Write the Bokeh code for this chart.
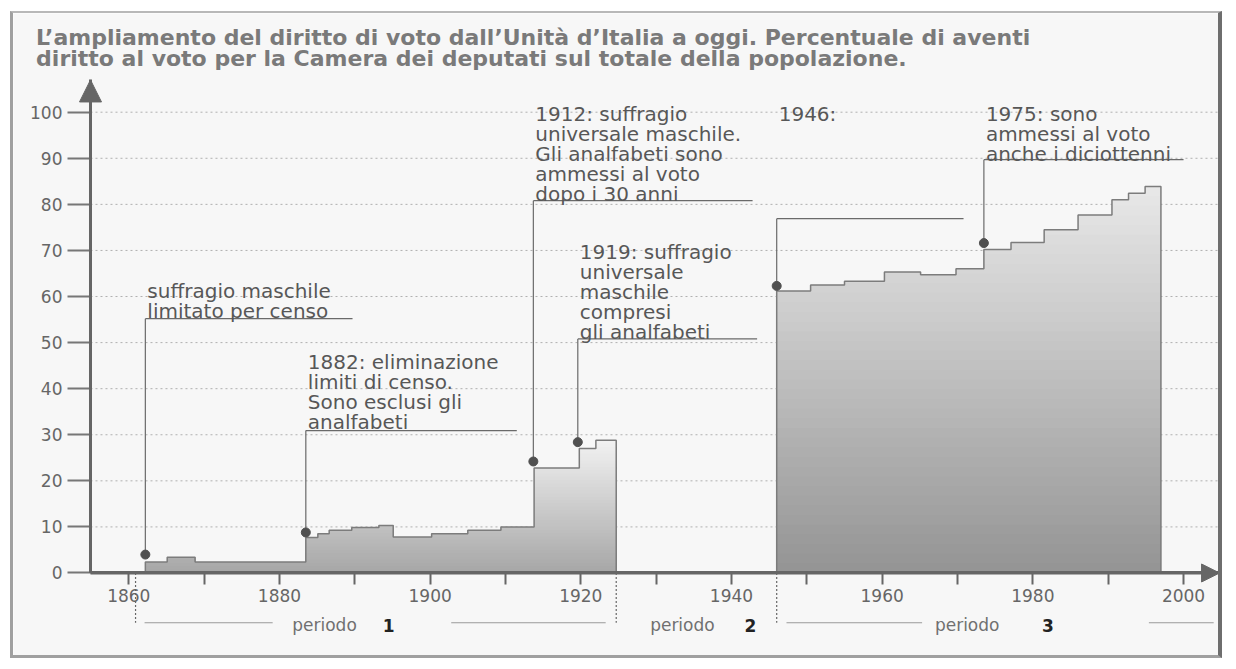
import numpy as np
from bokeh.plotting import figure
from bokeh.models import ColumnDataSource, FixedTicker, Arrow, NormalHead, Range1d
from bokeh.core.properties import value
from bokeh.embed import file_html
from bokeh.resources import INLINE

# ---------------- data ----------------
title_lines = [
    "L’ampliamento del diritto di voto dall’Unità d’Italia a oggi. Percentuale di aventi",
    "diritto al voto per la Camera dei deputati sul totale della popolazione.",
]

# period 1 (1861-1924): step edges (years) and % of population entitled to vote
p1_edges = [1862.2, 1865.1, 1868.8, 1883.5, 1885.1, 1886.6, 1889.6, 1893.2, 1895.1,
            1900.2, 1905.0, 1909.4, 1913.8, 1919.8, 1922.0, 1924.7]
p1_values = [2.4, 3.4, 2.4, 7.7, 8.5, 9.3, 9.9, 10.3, 7.8, 8.5, 9.3, 10.0, 22.8, 27.0, 28.8]

# period 3 (1946-today)
p3_edges = [1946.0, 1950.5, 1955.0, 1960.3, 1965.1, 1969.8, 1973.5, 1977.1, 1981.5,
            1986.0, 1990.5, 1992.7, 1994.9, 1997.0]
p3_values = [61.2, 62.5, 63.3, 65.3, 64.7, 66.0, 70.2, 71.7, 74.5, 77.7, 81.0, 82.4, 83.9]

y_ticks = [0, 10, 20, 30, 40, 50, 60, 70, 80, 90, 100]
x_ticks = [1860, 1870, 1880, 1890, 1900, 1910, 1920, 1930, 1940, 1950, 1960, 1970, 1980, 1990, 2000]
x_labelled = [1860, 1880, 1900, 1920, 1940, 1960, 1980, 2000]

# annotations: leader x (year), dot value, leader top value, leader end year, first text baseline
note_year = [1862.2, 1883.5, 1913.7, 1919.6, 1946.0, 1973.5]
note_dot = [4.0, 8.8, 24.2, 28.4, 62.3, 71.6]
note_top = [55.2, 30.9, 80.8, 50.8, 76.9, 89.7]
note_end = [1889.7, 1911.5, 1942.8, 1943.4, 1970.8, 2000.0]
note_first = [61.3, 45.8, 99.7, 69.6, 99.7, 99.7]
note_lines = [
    ["suffragio maschile", "limitato per censo"],
    ["1882: eliminazione", "limiti di censo.", "Sono esclusi gli", "analfabeti"],
    ["1912: suffragio", "universale maschile.", "Gli analfabeti sono", "ammessi al voto", "dopo i 30 anni"],
    ["1919: suffragio", "universale", "maschile", "compresi", "gli analfabeti"],
    ["1946:"],
    ["1975: sono", "ammessi al voto", "anche i diciottenni"],
]

# periods row under the axis
period_bounds = [1860.9, 1924.7, 1946.0]
period_line_start = [1862.1, 1902.8, 1947.3, 1995.4]
period_line_end = [1879.1, 1923.3, 1965.3, 2004.0]
period_word_x = [1881.7, 1929.2, 1967.0]
period_words = ["periodo", "periodo", "periodo"]
period_num_x = [1894.5, 1942.5, 1982.0]
period_nums = ["1", "2", "3"]

# ---------------- figure ----------------
AX_X0, AX_X1 = 1854.92, 2004.78      # axis extent (x)
AX_Y1 = 107.0                         # y-axis arrow tip
GRID_END = 2005.2
ROW_Y = -10.8
LINE_STEP = 4.34
TITLE_X, TITLE_Y, TITLE_STEP = 1847.7, 116.3, 4.68
FONT = "DejaVu Sans"

p = figure(width=1212, height=647, x_range=Range1d(1844.70, 2005.57),
           y_range=Range1d(-18.99, 121.42),
           output_backend="svg", toolbar_location=None, title=None,
           min_border_left=0, min_border_right=0, min_border_top=0, min_border_bottom=0,
           background_fill_color="#f7f7f7", border_fill_color="#f7f7f7",
           outline_line_color=None)
p.styles = {"margin-left": "10px", "margin-top": "11px",
            "border-top": "2px solid #b8b8b8", "border-left": "3px solid #a0a0a0",
            "border-bottom": "3px solid #a0a0a0", "border-right": "4px solid #6e6e6e"}

p.xgrid.visible = False
p.ygrid.visible = False

# dotted horizontal guide lines (from the y ticks)
gy = y_ticks[1:]
p.segment(x0=[AX_X0] * len(gy), y0=gy, x1=[GRID_END] * len(gy), y1=gy,
          line_color="#b0b0b0", line_dash="2 3", line_width=1)

# axes placed inside the frame
ya = p.yaxis[0]
ya.fixed_location = AX_X0
ya.bounds = (0, AX_Y1)
ya.ticker = FixedTicker(ticks=y_ticks)
ya.axis_line_color = "#666666"
ya.axis_line_width = 3
ya.major_tick_out = 23
ya.major_tick_in = 0
ya.major_tick_line_color = "#777777"
ya.major_tick_line_width = 2
ya.minor_tick_line_color = None
ya.major_label_text_font = FONT
ya.major_label_text_font_size = "17px"
ya.major_label_text_color = "#666666"
ya.major_label_standoff = 5

xa = p.xaxis[0]
xa.fixed_location = 0
xa.bounds = (AX_X0, AX_X1)
xa.ticker = FixedTicker(ticks=x_ticks)
xa.major_label_overrides = {t: (str(t) if t in x_labelled else "") for t in x_ticks}
xa.axis_line_color = "#666666"
xa.axis_line_width = 3
xa.major_tick_out = 12
xa.major_tick_in = 0
xa.major_tick_line_color = "#666666"
xa.major_tick_line_width = 2
xa.minor_tick_line_color = None
xa.major_label_text_font = FONT
xa.major_label_text_font_size = "17px"
xa.major_label_text_color = "#666666"
xa.major_label_standoff = 4


def lerp(c0, c1, t):
    return "#%02x%02x%02x" % tuple(int(round(a + (b - a) * t)) for a, b in zip(c0, c1))


def draw_period(edges, vals, c_bottom, c_top, n=40):
    vext = np.array(vals + [vals[-1]], dtype=float)
    vmax = max(vals)
    zeros = np.zeros(len(edges))
    for k in range(n - 1, -1, -1):
        hi = vmax * (k + 1) / n
        col = lerp(c_bottom, c_top, (k + 0.5) / n)
        p.varea_step(x=edges, y1=zeros, y2=np.minimum(vext, hi), step_mode="after",
                     fill_color=col)
    xs, ys = [edges[0]], [0.0]
    for i, v in enumerate(vals):
        xs += [edges[i], edges[i + 1]]
        ys += [v, v]
    xs.append(edges[-1])
    ys.append(0.0)
    p.line(xs, ys, line_color="#7c7c7c", line_width=1.5)


draw_period(p1_edges, p1_values, (166, 166, 166), (242, 242, 242))
draw_period(p3_edges, p3_values, (148, 148, 148), (232, 232, 232))

# leader lines and dots
p.segment(x0=note_year, y0=note_dot, x1=note_year, y1=note_top, line_color="#6a6a6a", line_width=1.2)
p.segment(x0=note_year, y0=note_top, x1=note_end, y1=note_top, line_color="#6a6a6a", line_width=1.2)
p.scatter(note_year, note_dot, size=9, marker="circle", fill_color="#505050", line_color="#505050")

tx, ty, tt = [], [], []
for i, lines in enumerate(note_lines):
    for j, s in enumerate(lines):
        tx.append(note_year[i])
        ty.append(note_first[i] - j * LINE_STEP)
        tt.append(s)
p.text(x="x", y="y", text="text", source=ColumnDataSource(dict(x=tx, y=ty, text=tt)),
       text_font=value(FONT), text_font_size="20px", text_color="#575757",
       text_baseline="alphabetic", text_align="left", x_offset=2)

# axis arrows
p.add_layout(Arrow(end=NormalHead(size=22, fill_color="#666666", line_color="#666666"),
                   x_start=AX_X0, y_start=0, x_end=AX_X0, y_end=AX_Y1,
                   line_color="#666666", line_width=3))
p.add_layout(Arrow(end=NormalHead(size=18, fill_color="#666666", line_color="#666666"),
                   x_start=AX_X0, y_start=0, x_end=AX_X1, y_end=0,
                   line_color="#666666", line_width=3))

# periods row
n_b = len(period_bounds)
p.segment(x0=period_bounds, y0=[0] * n_b, x1=period_bounds, y1=[ROW_Y] * n_b,
          line_color="#666666", line_width=1.2, line_dash="2 2")
n_l = len(period_line_start)
p.segment(x0=period_line_start, y0=[ROW_Y] * n_l, x1=period_line_end, y1=[ROW_Y] * n_l,
          line_color="#9a9a9a", line_width=1)
p.text(x=period_word_x, y=[ROW_Y - 0.5] * len(period_words), text=period_words,
       text_font=value(FONT), text_font_size="17px", text_color="#707070",
       text_baseline="alphabetic", text_align="left")
p.text(x=period_num_x, y=[ROW_Y - 0.6] * len(period_nums), text=period_nums,
       text_font=value(FONT), text_font_size="17px", text_font_style="bold",
       text_color="#222222", text_baseline="alphabetic", text_align="center")

# title
p.text(x=[TITLE_X] * len(title_lines),
       y=[TITLE_Y - j * TITLE_STEP for j in range(len(title_lines))],
       text=title_lines, text_font=value(FONT), text_font_size="22px",
       text_font_style="bold", text_color="#7a7a7a",
       text_baseline="alphabetic", text_align="left")

open("out.html", "w").write(file_html(p, INLINE))
